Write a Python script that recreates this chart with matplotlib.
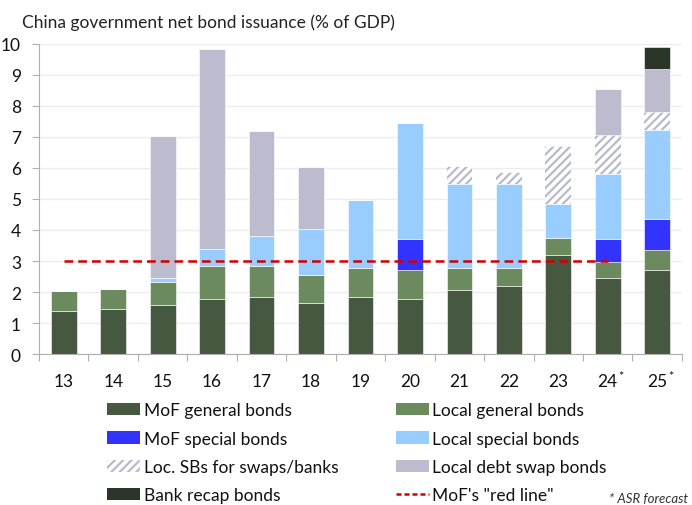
import numpy as np
import matplotlib.pyplot as plt
from matplotlib.lines import Line2D
from matplotlib.patches import Patch

plt.rcParams['font.family'] = ['Lato', 'DejaVu Sans']
plt.rcParams['hatch.linewidth'] = 1.6

# Net issuance by bond type, % of GDP (stacked components)
years = ['13', '14', '15', '16', '17', '18', '19', '20', '21', '22', '23', '24', '25']
forecast = ['24', '25']
mof_general = [1.39, 1.44, 1.58, 1.79, 1.83, 1.66, 1.83, 1.76, 2.07, 2.20, 3.18, 2.45, 2.71]
local_general = [0.63, 0.66, 0.73, 1.04, 1.01, 0.90, 0.96, 0.95, 0.72, 0.59, 0.56, 0.53, 0.64]
mof_special = [0, 0, 0, 0, 0, 0, 0, 1.01, 0, 0, 0, 0.74, 1.00]
local_special = [0, 0, 0.14, 0.55, 0.96, 1.47, 2.19, 3.74, 2.68, 2.68, 1.10, 2.10, 2.89]
loc_sb_swaps = [0, 0, 0, 0, 0, 0, 0, 0, 0.58, 0.39, 1.87, 1.23, 0.56]
local_swap = [0, 0, 4.59, 6.45, 3.39, 1.99, 0, 0, 0, 0, 0, 1.50, 1.40]
bank_recap = [0, 0, 0, 0, 0, 0, 0, 0, 0, 0, 0, 0, 0.71]
red_line = 3.0
red_line_span = ('13', '24')

series = [
    ('MoF general bonds', mof_general, '#465840', None),
    ('Local general bonds', local_general, '#6b8a5e', None),
    ('MoF special bonds', mof_special, '#3333ff', None),
    ('Local special bonds', local_special, '#99ccff', None),
    ('Loc. SBs for swaps/banks', loc_sb_swaps, 'white', '////'),
    ('Local debt swap bonds', local_swap, '#bdbccf', None),
    ('Bank recap bonds', bank_recap, '#2b3628', None),
]

fig = plt.figure(figsize=(6.92, 5.06), dpi=100)
ax = fig.add_axes([0.0564, 0.2984, 0.929, 0.6127])

x = np.arange(len(years))
bottom = np.zeros(len(years))
width = 0.52
for name, vals, color, hatch in series:
    vals = np.array(vals)
    if hatch:
        ax.bar(x, vals, width, bottom=bottom, color=color, hatch=hatch,
               edgecolor='#b9b9c9', linewidth=0, zorder=2)
    else:
        ax.bar(x, vals, width, bottom=bottom, color=color,
               edgecolor='white', linewidth=0.4, zorder=2)
    bottom += vals

i0, i1 = years.index(red_line_span[0]), years.index(red_line_span[1])
ax.plot([x[i0], x[i1]], [red_line, red_line], color='#d40000', lw=1.8,
        ls=(0, (3.5, 2)), zorder=3)

ax.set_xlim(-0.5, len(years) - 0.5)
ax.set_ylim(0, 10)
ax.set_yticks(range(0, 11))
ax.yaxis.grid(True, color='#ececec', lw=1, zorder=0)
ax.set_axisbelow(True)
for s in ['top', 'right']:
    ax.spines[s].set_visible(False)
ax.spines['left'].set_color('#b0b0b0')
ax.spines['bottom'].set_color('#b0b0b0')
ax.tick_params(axis='y', length=5, color='#b0b0b0', labelsize=12.5,
               labelcolor='#111111', pad=8)

# category labels centred, tick marks on the boundaries
ax.set_xticks(np.arange(-0.5, len(years), 1.0))
ax.set_xticklabels([])
ax.tick_params(axis='x', length=5, color='#b0b0b0')
for xi, lab in zip(x, years):
    ax.text(xi, -0.6, lab, ha='center', va='top', fontsize=12.5,
            color='#111111', transform=ax.transData)
    if lab in forecast:
        ax.text(xi + 0.27, -0.5, '*', ha='center', va='top', fontsize=9,
                color='#111111')

fig.text(0.032, 0.956, 'China government net bond issuance (% of GDP)',
         fontsize=12.5, color='#222222', va='center')

handles = []
for name, vals, color, hatch in series:
    if hatch:
        handles.append(Patch(facecolor=color, hatch=hatch, edgecolor='#b9b9c9',
                             linewidth=0, label=name))
    else:
        handles.append(Patch(facecolor=color, label=name))
handles.append(Line2D([0], [0], color='#d40000', lw=1.8, ls=(0, (2, 1.2)),
                      label="MoF's \"red line\""))
order = [0, 2, 4, 6, 1, 3, 5, 7]
leg = fig.legend([handles[i] for i in order], [handles[i].get_label() for i in order],
                 ncol=2, loc='upper left', bbox_to_anchor=(0.155, 0.203),
                 frameon=False, fontsize=12.5, handlelength=1.9, handleheight=0.7,
                 handletextpad=0.2, columnspacing=3.3, labelspacing=0.71,
                 borderaxespad=0, borderpad=0)
for t in leg.get_texts():
    t.set_color('#111111')

fig.text(0.995, 0.006, '* ASR forecast', fontsize=9.5, style='italic',
         color='#333333', ha='right')

fig.savefig('out.png', dpi=100)
